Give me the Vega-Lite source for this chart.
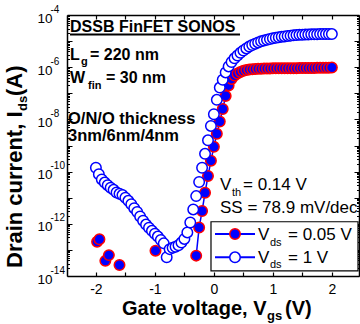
{
  "$schema": "https://vega.github.io/schema/vega-lite/v6.json",
  "width": 292,
  "height": 261,
  "autosize": {"type": "none"},
  "padding": {"left": 67, "top": 15, "right": 1, "bottom": 48},
  "background": "white",
  "config": {"view": {"stroke": null}, "font": "Liberation Sans"},
  "datasets": {
    "iv": [
      {"vgs": -1.98, "ids": 2.04e-13, "vds": 0.05},
      {"vgs": -1.94, "ids": 2.57e-13, "vds": 0.05},
      {"vgs": -1.84, "ids": 3.80e-14, "vds": 0.05},
      {"vgs": -1.78, "ids": 6.31e-14, "vds": 0.05},
      {"vgs": -1.60, "ids": 2.63e-14, "vds": 0.05},
      {"vgs": -0.99, "ids": 9.33e-14, "vds": 0.05},
      {"vgs": -0.30, "ids": 6.03e-14, "vds": 0.05},
      {"vgs": -0.25, "ids": 7.24e-13, "vds": 0.05},
      {"vgs": -0.20, "ids": 3.09e-12, "vds": 0.05},
      {"vgs": -0.15, "ids": 1.55e-11, "vds": 0.05},
      {"vgs": -0.10, "ids": 6.76e-11, "vds": 0.05},
      {"vgs": -0.05, "ids": 2.63e-10, "vds": 0.05},
      {"vgs": 0.00, "ids": 8.91e-10, "vds": 0.05},
      {"vgs": 0.05, "ids": 2.82e-9, "vds": 0.05},
      {"vgs": 0.10, "ids": 8.32e-9, "vds": 0.05},
      {"vgs": 0.15, "ids": 2.51e-8, "vds": 0.05},
      {"vgs": 0.20, "ids": 7.94e-8, "vds": 0.05},
      {"vgs": 0.25, "ids": 2.00e-7, "vds": 0.05},
      {"vgs": 0.30, "ids": 3.55e-7, "vds": 0.05},
      {"vgs": 0.35, "ids": 4.79e-7, "vds": 0.05},
      {"vgs": 0.40, "ids": 5.75e-7, "vds": 0.05},
      {"vgs": 0.45, "ids": 6.61e-7, "vds": 0.05},
      {"vgs": 0.50, "ids": 7.24e-7, "vds": 0.05},
      {"vgs": 0.55, "ids": 7.76e-7, "vds": 0.05},
      {"vgs": 0.60, "ids": 8.13e-7, "vds": 0.05},
      {"vgs": 0.65, "ids": 8.32e-7, "vds": 0.05},
      {"vgs": 0.70, "ids": 8.51e-7, "vds": 0.05},
      {"vgs": 0.75, "ids": 8.71e-7, "vds": 0.05},
      {"vgs": 0.80, "ids": 8.71e-7, "vds": 0.05},
      {"vgs": 0.85, "ids": 8.91e-7, "vds": 0.05},
      {"vgs": 0.90, "ids": 8.91e-7, "vds": 0.05},
      {"vgs": 0.95, "ids": 8.91e-7, "vds": 0.05},
      {"vgs": 1.00, "ids": 9.12e-7, "vds": 0.05},
      {"vgs": 1.05, "ids": 9.12e-7, "vds": 0.05},
      {"vgs": 1.10, "ids": 9.12e-7, "vds": 0.05},
      {"vgs": 1.15, "ids": 9.12e-7, "vds": 0.05},
      {"vgs": 1.20, "ids": 9.12e-7, "vds": 0.05},
      {"vgs": 1.25, "ids": 9.12e-7, "vds": 0.05},
      {"vgs": 1.30, "ids": 9.12e-7, "vds": 0.05},
      {"vgs": 1.35, "ids": 9.12e-7, "vds": 0.05},
      {"vgs": 1.40, "ids": 9.12e-7, "vds": 0.05},
      {"vgs": 1.45, "ids": 9.33e-7, "vds": 0.05},
      {"vgs": 1.50, "ids": 9.33e-7, "vds": 0.05},
      {"vgs": 1.55, "ids": 9.33e-7, "vds": 0.05},
      {"vgs": 1.60, "ids": 9.33e-7, "vds": 0.05},
      {"vgs": 1.65, "ids": 9.33e-7, "vds": 0.05},
      {"vgs": 1.70, "ids": 9.33e-7, "vds": 0.05},
      {"vgs": 1.75, "ids": 9.55e-7, "vds": 0.05},
      {"vgs": 1.80, "ids": 9.55e-7, "vds": 0.05},
      {"vgs": 1.85, "ids": 9.55e-7, "vds": 0.05},
      {"vgs": 1.90, "ids": 9.55e-7, "vds": 0.05},
      {"vgs": 1.95, "ids": 9.55e-7, "vds": 0.05},
      {"vgs": 2.00, "ids": 9.77e-7, "vds": 0.05},
      {"vgs": -2.00, "ids": 1.41e-10, "vds": 1},
      {"vgs": -1.95, "ids": 7.94e-11, "vds": 1},
      {"vgs": -1.90, "ids": 5.01e-11, "vds": 1},
      {"vgs": -1.85, "ids": 3.80e-11, "vds": 1},
      {"vgs": -1.80, "ids": 3.02e-11, "vds": 1},
      {"vgs": -1.75, "ids": 2.40e-11, "vds": 1},
      {"vgs": -1.70, "ids": 2.00e-11, "vds": 1},
      {"vgs": -1.65, "ids": 1.58e-11, "vds": 1},
      {"vgs": -1.60, "ids": 1.41e-11, "vds": 1},
      {"vgs": -1.55, "ids": 1.26e-11, "vds": 1},
      {"vgs": -1.50, "ids": 1.00e-11, "vds": 1},
      {"vgs": -1.45, "ids": 7.59e-12, "vds": 1},
      {"vgs": -1.40, "ids": 5.62e-12, "vds": 1},
      {"vgs": -1.35, "ids": 3.98e-12, "vds": 1},
      {"vgs": -1.30, "ids": 2.82e-12, "vds": 1},
      {"vgs": -1.25, "ids": 1.91e-12, "vds": 1},
      {"vgs": -1.20, "ids": 1.32e-12, "vds": 1},
      {"vgs": -1.15, "ids": 9.33e-13, "vds": 1},
      {"vgs": -1.10, "ids": 7.08e-13, "vds": 1},
      {"vgs": -1.05, "ids": 5.37e-13, "vds": 1},
      {"vgs": -1.00, "ids": 4.17e-13, "vds": 1},
      {"vgs": -0.95, "ids": 3.24e-13, "vds": 1},
      {"vgs": -0.90, "ids": 2.40e-13, "vds": 1},
      {"vgs": -0.85, "ids": 1.78e-13, "vds": 1},
      {"vgs": -0.80, "ids": 5.25e-14, "vds": 1},
      {"vgs": -0.75, "ids": 1.07e-13, "vds": 1},
      {"vgs": -0.70, "ids": 1.20e-13, "vds": 1},
      {"vgs": -0.65, "ids": 1.32e-13, "vds": 1},
      {"vgs": -0.60, "ids": 1.51e-13, "vds": 1},
      {"vgs": -0.55, "ids": 1.91e-13, "vds": 1},
      {"vgs": -0.50, "ids": 2.63e-13, "vds": 1},
      {"vgs": -0.45, "ids": 4.68e-13, "vds": 1},
      {"vgs": -0.40, "ids": 1.12e-12, "vds": 1},
      {"vgs": -0.35, "ids": 3.55e-12, "vds": 1},
      {"vgs": -0.30, "ids": 1.15e-11, "vds": 1},
      {"vgs": -0.25, "ids": 3.98e-11, "vds": 1},
      {"vgs": -0.20, "ids": 1.41e-10, "vds": 1},
      {"vgs": -0.15, "ids": 4.79e-10, "vds": 1},
      {"vgs": -0.10, "ids": 1.58e-9, "vds": 1},
      {"vgs": -0.05, "ids": 5.62e-9, "vds": 1},
      {"vgs": 0.00, "ids": 1.58e-8, "vds": 1},
      {"vgs": 0.05, "ids": 5.62e-8, "vds": 1},
      {"vgs": 0.10, "ids": 1.66e-7, "vds": 1},
      {"vgs": 0.15, "ids": 3.31e-7, "vds": 1},
      {"vgs": 0.20, "ids": 6.31e-7, "vds": 1},
      {"vgs": 0.25, "ids": 1.07e-6, "vds": 1},
      {"vgs": 0.30, "ids": 1.58e-6, "vds": 1},
      {"vgs": 0.35, "ids": 2.19e-6, "vds": 1},
      {"vgs": 0.40, "ids": 2.82e-6, "vds": 1},
      {"vgs": 0.45, "ids": 3.55e-6, "vds": 1},
      {"vgs": 0.50, "ids": 4.37e-6, "vds": 1},
      {"vgs": 0.55, "ids": 5.25e-6, "vds": 1},
      {"vgs": 0.60, "ids": 6.17e-6, "vds": 1},
      {"vgs": 0.65, "ids": 7.08e-6, "vds": 1},
      {"vgs": 0.70, "ids": 7.94e-6, "vds": 1},
      {"vgs": 0.75, "ids": 8.91e-6, "vds": 1},
      {"vgs": 0.80, "ids": 9.77e-6, "vds": 1},
      {"vgs": 0.85, "ids": 1.05e-5, "vds": 1},
      {"vgs": 0.90, "ids": 1.12e-5, "vds": 1},
      {"vgs": 0.95, "ids": 1.20e-5, "vds": 1},
      {"vgs": 1.00, "ids": 1.29e-5, "vds": 1},
      {"vgs": 1.05, "ids": 1.35e-5, "vds": 1},
      {"vgs": 1.10, "ids": 1.41e-5, "vds": 1},
      {"vgs": 1.15, "ids": 1.48e-5, "vds": 1},
      {"vgs": 1.20, "ids": 1.51e-5, "vds": 1},
      {"vgs": 1.25, "ids": 1.58e-5, "vds": 1},
      {"vgs": 1.30, "ids": 1.62e-5, "vds": 1},
      {"vgs": 1.35, "ids": 1.66e-5, "vds": 1},
      {"vgs": 1.40, "ids": 1.70e-5, "vds": 1},
      {"vgs": 1.45, "ids": 1.74e-5, "vds": 1},
      {"vgs": 1.50, "ids": 1.74e-5, "vds": 1},
      {"vgs": 1.55, "ids": 1.78e-5, "vds": 1},
      {"vgs": 1.60, "ids": 1.78e-5, "vds": 1},
      {"vgs": 1.65, "ids": 1.82e-5, "vds": 1},
      {"vgs": 1.70, "ids": 1.82e-5, "vds": 1},
      {"vgs": 1.75, "ids": 1.82e-5, "vds": 1},
      {"vgs": 1.80, "ids": 1.86e-5, "vds": 1},
      {"vgs": 1.85, "ids": 1.86e-5, "vds": 1},
      {"vgs": 1.90, "ids": 1.86e-5, "vds": 1},
      {"vgs": 1.95, "ids": 1.86e-5, "vds": 1},
      {"vgs": 2.00, "ids": 1.86e-5, "vds": 1}
    ],
    "decades": [
      {"tick": 1e-4, "exp": "-4"},
      {"tick": 1e-6, "exp": "-6"},
      {"tick": 1e-8, "exp": "-8"},
      {"tick": 1e-10, "exp": "-10"},
      {"tick": 1e-12, "exp": "-12"},
      {"tick": 1e-14, "exp": "-14"}
    ]
  },
  "layer": [
    {
      "data": {"name": "iv"},
      "transform": [{"filter": "datum.vds == 0.05 && datum.vgs >= -0.31"}],
      "mark": {"type": "line", "color": "#0000ff", "strokeWidth": 1.5},
      "encoding": {
        "x": {"field": "vgs", "type": "quantitative", "scale": {"domain": [-2.49, 2.46], "nice": false, "zero": false}, "axis": null},
        "y": {"field": "ids", "type": "quantitative", "scale": {"type": "log", "domain": [1e-14, 1e-4], "nice": false}, "axis": null}
      }
    },
    {
      "data": {"name": "iv"},
      "transform": [{"filter": "datum.vds == 0.05"}],
      "mark": {"type": "point", "shape": "circle", "filled": true, "fill": "#0000ff", "stroke": "#ff0000", "strokeWidth": 1.5, "size": 110, "opacity": 1, "fillOpacity": 1, "strokeOpacity": 1},
      "encoding": {
        "x": {"field": "vgs", "type": "quantitative", "scale": {"domain": [-2.49, 2.46], "nice": false, "zero": false},
          "axis": {"orient": "bottom", "values": [-2, -1.5, -1, -0.5, 0, 0.5, 1, 1.5, 2], "labelExpr": "datum.value == round(datum.value) ? (datum.value < 0 ? '-' + abs(datum.value) : '' + datum.value) : ''", "tickSize": -4, "tickWidth": 1.2, "tickColor": "black", "domainColor": "black", "domainWidth": 1.5, "labelFont": "Liberation Sans", "labelFontSize": 14, "labelColor": "black", "labelPadding": 10, "grid": false, "title": null, "labelFlush": false, "labelOverlap": false}},
        "y": {"field": "ids", "type": "quantitative", "scale": {"type": "log", "domain": [1e-14, 1e-4], "nice": false},
          "axis": {"orient": "left", "values": [1e-14,2e-14,3e-14,4e-14,5e-14,6e-14,7e-14,8e-14,9e-14,1e-13,2e-13,3e-13,4e-13,5e-13,6e-13,7e-13,8e-13,9e-13,1e-12,2e-12,3e-12,4e-12,5e-12,6e-12,7e-12,8e-12,9e-12,1e-11,2e-11,3e-11,4e-11,5e-11,6e-11,7e-11,8e-11,9e-11,1e-10,2e-10,3e-10,4e-10,5e-10,6e-10,7e-10,8e-10,9e-10,1e-9,2e-9,3e-9,4e-9,5e-9,6e-9,7e-9,8e-9,9e-9,1e-8,2e-8,3e-8,4e-8,5e-8,6e-8,7e-8,8e-8,9e-8,1e-7,2e-7,3e-7,4e-7,5e-7,6e-7,7e-7,8e-7,9e-7,1e-6,2e-6,3e-6,4e-6,5e-6,6e-6,7e-6,8e-6,9e-6,1e-5,2e-5,3e-5,4e-5,5e-5,6e-5,7e-5,8e-5,9e-5,1e-4],
            "labelExpr": "abs(log(datum.value)/LN10 - round(log(datum.value)/LN10)) < 0.01 && round(log(datum.value)/LN10) % 2 == 0 ? '10' : ''",
            "tickSize": {"condition": {"test": "abs(log(datum.value)/LN10 - round(log(datum.value)/LN10)) < 0.01", "value": -5}, "value": -2.5},
            "tickWidth": 1, "tickColor": "black", "domainColor": "black", "domainWidth": 1.5, "labelFont": "Liberation Sans", "labelFontSize": 13.5, "labelColor": "black", "labelPadding": 20, "labelOffset": 3, "grid": false, "title": null, "labelFlush": false, "labelOverlap": false}}
      }
    },
    {
      "data": {"name": "iv"},
      "transform": [{"filter": "datum.vds == 1"}],
      "mark": {"type": "point", "shape": "circle", "filled": true, "fill": "#ffffff", "stroke": "#0000ff", "strokeWidth": 1.5, "size": 110, "opacity": 1, "fillOpacity": 1, "strokeOpacity": 1},
      "encoding": {
        "x": {"field": "vgs", "type": "quantitative", "scale": {"domain": [-2.49, 2.46], "nice": false, "zero": false},
          "axis": {"orient": "top", "values": [-2, -1.5, -1, -0.5, 0, 0.5, 1, 1.5, 2], "labels": false, "tickSize": -4, "tickWidth": 1.2, "tickColor": "black", "domainColor": "black", "domainWidth": 1.5, "grid": false, "title": null}},
        "y": {"field": "ids", "type": "quantitative", "scale": {"type": "log", "domain": [1e-14, 1e-4], "nice": false},
          "axis": {"orient": "right", "values": [1e-14,2e-14,3e-14,4e-14,5e-14,6e-14,7e-14,8e-14,9e-14,1e-13,2e-13,3e-13,4e-13,5e-13,6e-13,7e-13,8e-13,9e-13,1e-12,2e-12,3e-12,4e-12,5e-12,6e-12,7e-12,8e-12,9e-12,1e-11,2e-11,3e-11,4e-11,5e-11,6e-11,7e-11,8e-11,9e-11,1e-10,2e-10,3e-10,4e-10,5e-10,6e-10,7e-10,8e-10,9e-10,1e-9,2e-9,3e-9,4e-9,5e-9,6e-9,7e-9,8e-9,9e-9,1e-8,2e-8,3e-8,4e-8,5e-8,6e-8,7e-8,8e-8,9e-8,1e-7,2e-7,3e-7,4e-7,5e-7,6e-7,7e-7,8e-7,9e-7,1e-6,2e-6,3e-6,4e-6,5e-6,6e-6,7e-6,8e-6,9e-6,1e-5,2e-5,3e-5,4e-5,5e-5,6e-5,7e-5,8e-5,9e-5,1e-4],
            "labels": false,
            "tickSize": {"condition": {"test": "abs(log(datum.value)/LN10 - round(log(datum.value)/LN10)) < 0.01", "value": -5}, "value": -2.5},
            "tickWidth": 1, "tickColor": "black", "domainColor": "black", "domainWidth": 1.5, "grid": false, "title": null}}
      }
    },
    {
      "data": {"name": "decades"},
      "mark": {"type": "text", "align": "left", "baseline": "middle", "dx": -16.5, "dy": -5.5, "font": "Liberation Sans", "fontSize": 10, "color": "black"},
      "encoding": {
        "x": {"datum": -2.49, "type": "quantitative", "scale": {"domain": [-2.49, 2.46], "nice": false, "zero": false}, "axis": null},
        "y": {"field": "tick", "type": "quantitative", "scale": {"type": "log", "domain": [1e-14, 1e-4], "nice": false}, "axis": null},
        "text": {"field": "exp"}
      }
    },
    {
      "data": {"values": [{}]},
      "mark": {"type": "text", "text": "DSSB FinFET SONOS", "align": "left", "baseline": "alphabetic", "font": "Liberation Sans", "fontSize": 16, "fontWeight": "bold", "color": "black"},
      "encoding": {
        "x": {"datum": -2.439, "type": "quantitative", "scale": {"domain": [-2.49, 2.46], "nice": false, "zero": false}, "axis": null},
        "y": {"datum": 2.29e-5, "type": "quantitative", "scale": {"type": "log", "domain": [1e-14, 1e-4], "nice": false}, "axis": null}
      }
    },
    {
      "data": {"values": [{}]},
      "mark": {"type": "rule", "color": "black", "strokeWidth": 1.8},
      "encoding": {
        "x": {"datum": -2.439, "type": "quantitative", "scale": {"domain": [-2.49, 2.46], "nice": false, "zero": false}, "axis": null},
        "x2": {"datum": 0.443},
        "y": {"datum": 1.79e-5, "type": "quantitative", "scale": {"type": "log", "domain": [1e-14, 1e-4], "nice": false}, "axis": null}
      }
    },
    {
      "data": {"values": [{}]},
      "mark": {"type": "text", "text": "L", "align": "left", "baseline": "alphabetic", "font": "Liberation Sans", "fontSize": 16, "fontWeight": "bold", "color": "black"},
      "encoding": {
        "x": {"datum": -2.439, "type": "quantitative", "scale": {"domain": [-2.49, 2.46], "nice": false, "zero": false}, "axis": null},
        "y": {"datum": 1.89e-6, "type": "quantitative", "scale": {"type": "log", "domain": [1e-14, 1e-4], "nice": false}, "axis": null}
      }
    },
    {
      "data": {"values": [{}]},
      "mark": {"type": "text", "text": "g", "align": "left", "baseline": "alphabetic", "font": "Liberation Sans", "fontSize": 11, "fontWeight": "bold", "color": "black"},
      "encoding": {
        "x": {"datum": -2.253, "type": "quantitative", "scale": {"domain": [-2.49, 2.46], "nice": false, "zero": false}, "axis": null},
        "y": {"datum": 1.21e-6, "type": "quantitative", "scale": {"type": "log", "domain": [1e-14, 1e-4], "nice": false}, "axis": null}
      }
    },
    {
      "data": {"values": [{}]},
      "mark": {"type": "text", "text": "= 220 nm", "align": "left", "baseline": "alphabetic", "font": "Liberation Sans", "fontSize": 16, "fontWeight": "bold", "color": "black"},
      "encoding": {
        "x": {"datum": -2.100, "type": "quantitative", "scale": {"domain": [-2.49, 2.46], "nice": false, "zero": false}, "axis": null},
        "y": {"datum": 1.89e-6, "type": "quantitative", "scale": {"type": "log", "domain": [1e-14, 1e-4], "nice": false}, "axis": null}
      }
    },
    {
      "data": {"values": [{}]},
      "mark": {"type": "text", "text": "W", "align": "left", "baseline": "alphabetic", "font": "Liberation Sans", "fontSize": 16, "fontWeight": "bold", "color": "black"},
      "encoding": {
        "x": {"datum": -2.439, "type": "quantitative", "scale": {"domain": [-2.49, 2.46], "nice": false, "zero": false}, "axis": null},
        "y": {"datum": 2.42e-7, "type": "quantitative", "scale": {"type": "log", "domain": [1e-14, 1e-4], "nice": false}, "axis": null}
      }
    },
    {
      "data": {"values": [{}]},
      "mark": {"type": "text", "text": "fin", "align": "left", "baseline": "alphabetic", "font": "Liberation Sans", "fontSize": 11, "fontWeight": "bold", "color": "black"},
      "encoding": {
        "x": {"datum": -2.134, "type": "quantitative", "scale": {"domain": [-2.49, 2.46], "nice": false, "zero": false}, "axis": null},
        "y": {"datum": 1.46e-7, "type": "quantitative", "scale": {"type": "log", "domain": [1e-14, 1e-4], "nice": false}, "axis": null}
      }
    },
    {
      "data": {"values": [{}]},
      "mark": {"type": "text", "text": "= 30 nm", "align": "left", "baseline": "alphabetic", "font": "Liberation Sans", "fontSize": 16, "fontWeight": "bold", "color": "black"},
      "encoding": {
        "x": {"datum": -1.829, "type": "quantitative", "scale": {"domain": [-2.49, 2.46], "nice": false, "zero": false}, "axis": null},
        "y": {"datum": 2.42e-7, "type": "quantitative", "scale": {"type": "log", "domain": [1e-14, 1e-4], "nice": false}, "axis": null}
      }
    },
    {
      "data": {"values": [{}]},
      "mark": {"type": "text", "text": "O/N/O thickness", "align": "left", "baseline": "alphabetic", "font": "Liberation Sans", "fontSize": 16.5, "fontWeight": "bold", "color": "black"},
      "encoding": {
        "x": {"datum": -2.473, "type": "quantitative", "scale": {"domain": [-2.49, 2.46], "nice": false, "zero": false}, "axis": null},
        "y": {"datum": 6.67e-9, "type": "quantitative", "scale": {"type": "log", "domain": [1e-14, 1e-4], "nice": false}, "axis": null}
      }
    },
    {
      "data": {"values": [{}]},
      "mark": {"type": "text", "text": "3nm/6nm/4nm", "align": "left", "baseline": "alphabetic", "font": "Liberation Sans", "fontSize": 16.5, "fontWeight": "bold", "color": "black"},
      "encoding": {
        "x": {"datum": -2.473, "type": "quantitative", "scale": {"domain": [-2.49, 2.46], "nice": false, "zero": false}, "axis": null},
        "y": {"datum": 1.55e-9, "type": "quantitative", "scale": {"type": "log", "domain": [1e-14, 1e-4], "nice": false}, "axis": null}
      }
    },
    {
      "data": {"values": [{}]},
      "mark": {"type": "text", "text": "V", "align": "left", "baseline": "alphabetic", "font": "Liberation Sans", "fontSize": 17, "color": "black"},
      "encoding": {
        "x": {"datum": 0.104, "type": "quantitative", "scale": {"domain": [-2.49, 2.46], "nice": false, "zero": false}, "axis": null},
        "y": {"datum": 1.97e-11, "type": "quantitative", "scale": {"type": "log", "domain": [1e-14, 1e-4], "nice": false}, "axis": null}
      }
    },
    {
      "data": {"values": [{}]},
      "mark": {"type": "text", "text": "th", "align": "left", "baseline": "alphabetic", "font": "Liberation Sans", "fontSize": 11, "color": "black"},
      "encoding": {
        "x": {"datum": 0.307, "type": "quantitative", "scale": {"domain": [-2.49, 2.46], "nice": false, "zero": false}, "axis": null},
        "y": {"datum": 1.16e-11, "type": "quantitative", "scale": {"type": "log", "domain": [1e-14, 1e-4], "nice": false}, "axis": null}
      }
    },
    {
      "data": {"values": [{}]},
      "mark": {"type": "text", "text": "= 0.14 V", "align": "left", "baseline": "alphabetic", "font": "Liberation Sans", "fontSize": 17, "color": "black"},
      "encoding": {
        "x": {"datum": 0.494, "type": "quantitative", "scale": {"domain": [-2.49, 2.46], "nice": false, "zero": false}, "axis": null},
        "y": {"datum": 1.97e-11, "type": "quantitative", "scale": {"type": "log", "domain": [1e-14, 1e-4], "nice": false}, "axis": null}
      }
    },
    {
      "data": {"values": [{}]},
      "mark": {"type": "text", "text": "SS = 78.9 mV/dec", "align": "left", "baseline": "alphabetic", "font": "Liberation Sans", "fontSize": 17, "color": "black"},
      "encoding": {
        "x": {"datum": 0.104, "type": "quantitative", "scale": {"domain": [-2.49, 2.46], "nice": false, "zero": false}, "axis": null},
        "y": {"datum": 2.66e-12, "type": "quantitative", "scale": {"type": "log", "domain": [1e-14, 1e-4], "nice": false}, "axis": null}
      }
    },
    {
      "data": {"values": [{}]},
      "mark": {"type": "rect", "fill": "white", "stroke": "black", "strokeWidth": 1.2},
      "encoding": {
        "x": {"datum": -0.049, "type": "quantitative", "scale": {"domain": [-2.49, 2.46], "nice": false, "zero": false}, "axis": null},
        "x2": {"datum": 2.443},
        "y": {"datum": 1.20e-12, "type": "quantitative", "scale": {"type": "log", "domain": [1e-14, 1e-4], "nice": false}, "axis": null},
        "y2": {"datum": 1.56e-14}
      }
    },
    {
      "data": {"values": [{}]},
      "mark": {"type": "rule", "color": "#0000ff", "strokeWidth": 2},
      "encoding": {
        "x": {"datum": 0.019, "type": "quantitative", "scale": {"domain": [-2.49, 2.46], "nice": false, "zero": false}, "axis": null},
        "x2": {"datum": 0.697},
        "y": {"datum": 4.06e-13, "type": "quantitative", "scale": {"type": "log", "domain": [1e-14, 1e-4], "nice": false}, "axis": null}
      }
    },
    {
      "data": {"values": [{}]},
      "mark": {"type": "rule", "color": "#0000ff", "strokeWidth": 2},
      "encoding": {
        "x": {"datum": 0.019, "type": "quantitative", "scale": {"domain": [-2.49, 2.46], "nice": false, "zero": false}, "axis": null},
        "x2": {"datum": 0.697},
        "y": {"datum": 5.2e-14, "type": "quantitative", "scale": {"type": "log", "domain": [1e-14, 1e-4], "nice": false}, "axis": null}
      }
    },
    {
      "data": {"values": [{}]},
      "mark": {"type": "point", "shape": "circle", "filled": true, "fill": "#0000ff", "stroke": "#ff0000", "strokeWidth": 1.5, "size": 110, "opacity": 1},
      "encoding": {
        "x": {"datum": 0.358, "type": "quantitative", "scale": {"domain": [-2.49, 2.46], "nice": false, "zero": false}, "axis": null},
        "y": {"datum": 4.06e-13, "type": "quantitative", "scale": {"type": "log", "domain": [1e-14, 1e-4], "nice": false}, "axis": null}
      }
    },
    {
      "data": {"values": [{}]},
      "mark": {"type": "point", "shape": "circle", "filled": true, "fill": "#ffffff", "stroke": "#0000ff", "strokeWidth": 1.5, "size": 110, "opacity": 1},
      "encoding": {
        "x": {"datum": 0.358, "type": "quantitative", "scale": {"domain": [-2.49, 2.46], "nice": false, "zero": false}, "axis": null},
        "y": {"datum": 5.2e-14, "type": "quantitative", "scale": {"type": "log", "domain": [1e-14, 1e-4], "nice": false}, "axis": null}
      }
    },
    {
      "data": {"values": [{}]},
      "mark": {"type": "text", "text": "V", "align": "left", "baseline": "alphabetic", "font": "Liberation Sans", "fontSize": 17, "color": "black"},
      "encoding": {
        "x": {"datum": 0.748, "type": "quantitative", "scale": {"domain": [-2.49, 2.46], "nice": false, "zero": false}, "axis": null},
        "y": {"datum": 2.39e-13, "type": "quantitative", "scale": {"type": "log", "domain": [1e-14, 1e-4], "nice": false}, "axis": null}
      }
    },
    {
      "data": {"values": [{}]},
      "mark": {"type": "text", "text": "ds", "align": "left", "baseline": "alphabetic", "font": "Liberation Sans", "fontSize": 11, "color": "black"},
      "encoding": {
        "x": {"datum": 0.951, "type": "quantitative", "scale": {"domain": [-2.49, 2.46], "nice": false, "zero": false}, "axis": null},
        "y": {"datum": 1.47e-13, "type": "quantitative", "scale": {"type": "log", "domain": [1e-14, 1e-4], "nice": false}, "axis": null}
      }
    },
    {
      "data": {"values": [{}]},
      "mark": {"type": "text", "text": "= 0.05 V", "align": "left", "baseline": "alphabetic", "font": "Liberation Sans", "fontSize": 17, "color": "black"},
      "encoding": {
        "x": {"datum": 1.256, "type": "quantitative", "scale": {"domain": [-2.49, 2.46], "nice": false, "zero": false}, "axis": null},
        "y": {"datum": 2.39e-13, "type": "quantitative", "scale": {"type": "log", "domain": [1e-14, 1e-4], "nice": false}, "axis": null}
      }
    },
    {
      "data": {"values": [{}]},
      "mark": {"type": "text", "text": "V", "align": "left", "baseline": "alphabetic", "font": "Liberation Sans", "fontSize": 17, "color": "black"},
      "encoding": {
        "x": {"datum": 0.748, "type": "quantitative", "scale": {"domain": [-2.49, 2.46], "nice": false, "zero": false}, "axis": null},
        "y": {"datum": 3.24e-14, "type": "quantitative", "scale": {"type": "log", "domain": [1e-14, 1e-4], "nice": false}, "axis": null}
      }
    },
    {
      "data": {"values": [{}]},
      "mark": {"type": "text", "text": "ds", "align": "left", "baseline": "alphabetic", "font": "Liberation Sans", "fontSize": 11, "color": "black"},
      "encoding": {
        "x": {"datum": 0.951, "type": "quantitative", "scale": {"domain": [-2.49, 2.46], "nice": false, "zero": false}, "axis": null},
        "y": {"datum": 2.03e-14, "type": "quantitative", "scale": {"type": "log", "domain": [1e-14, 1e-4], "nice": false}, "axis": null}
      }
    },
    {
      "data": {"values": [{}]},
      "mark": {"type": "text", "text": "= 1 V", "align": "left", "baseline": "alphabetic", "font": "Liberation Sans", "fontSize": 17, "color": "black"},
      "encoding": {
        "x": {"datum": 1.256, "type": "quantitative", "scale": {"domain": [-2.49, 2.46], "nice": false, "zero": false}, "axis": null},
        "y": {"datum": 3.24e-14, "type": "quantitative", "scale": {"type": "log", "domain": [1e-14, 1e-4], "nice": false}, "axis": null}
      }
    },
    {
      "data": {"values": [{}]},
      "mark": {"type": "text", "text": "Gate voltage, V", "align": "left", "baseline": "alphabetic", "font": "Liberation Sans", "fontSize": 20, "fontWeight": "bold", "color": "black"},
      "encoding": {
        "x": {"datum": -1.558, "type": "quantitative", "scale": {"domain": [-2.49, 2.46], "nice": false, "zero": false}, "axis": null},
        "y": {"datum": 3.07e-16, "type": "quantitative", "scale": {"type": "log", "domain": [1e-14, 1e-4], "nice": false}, "axis": null}
      }
    },
    {
      "data": {"values": [{}]},
      "mark": {"type": "text", "text": "gs", "align": "left", "baseline": "alphabetic", "font": "Liberation Sans", "fontSize": 13, "fontWeight": "bold", "color": "black"},
      "encoding": {
        "x": {"datum": 0.900, "type": "quantitative", "scale": {"domain": [-2.49, 2.46], "nice": false, "zero": false}, "axis": null},
        "y": {"datum": 2.06e-16, "type": "quantitative", "scale": {"type": "log", "domain": [1e-14, 1e-4], "nice": false}, "axis": null}
      }
    },
    {
      "data": {"values": [{}]},
      "mark": {"type": "text", "text": " (V)", "align": "left", "baseline": "alphabetic", "font": "Liberation Sans", "fontSize": 20, "fontWeight": "bold", "color": "black"},
      "encoding": {
        "x": {"datum": 1.206, "type": "quantitative", "scale": {"domain": [-2.49, 2.46], "nice": false, "zero": false}, "axis": null},
        "y": {"datum": 3.07e-16, "type": "quantitative", "scale": {"type": "log", "domain": [1e-14, 1e-4], "nice": false}, "axis": null}
      }
    },
    {
      "data": {"values": [{}]},
      "mark": {"type": "text", "text": "Drain current, I", "angle": 270, "align": "left", "baseline": "alphabetic", "font": "Liberation Sans", "fontSize": 22, "fontWeight": "bold", "color": "black"},
      "encoding": {
        "x": {"datum": -3.253, "type": "quantitative", "scale": {"domain": [-2.49, 2.46], "nice": false, "zero": false}, "axis": null},
        "y": {"datum": 2.03e-14, "type": "quantitative", "scale": {"type": "log", "domain": [1e-14, 1e-4], "nice": false}, "axis": null}
      }
    },
    {
      "data": {"values": [{}]},
      "mark": {"type": "text", "text": "ds", "angle": 270, "align": "left", "baseline": "alphabetic", "font": "Liberation Sans", "fontSize": 13, "fontWeight": "bold", "color": "black"},
      "encoding": {
        "x": {"datum": -3.168, "type": "quantitative", "scale": {"domain": [-2.49, 2.46], "nice": false, "zero": false}, "axis": null},
        "y": {"datum": 2.10e-8, "type": "quantitative", "scale": {"type": "log", "domain": [1e-14, 1e-4], "nice": false}, "axis": null}
      }
    },
    {
      "data": {"values": [{}]},
      "mark": {"type": "text", "text": " (A)", "angle": 270, "align": "left", "baseline": "alphabetic", "font": "Liberation Sans", "fontSize": 22, "fontWeight": "bold", "color": "black"},
      "encoding": {
        "x": {"datum": -3.253, "type": "quantitative", "scale": {"domain": [-2.49, 2.46], "nice": false, "zero": false}, "axis": null},
        "y": {"datum": 7.88e-8, "type": "quantitative", "scale": {"type": "log", "domain": [1e-14, 1e-4], "nice": false}, "axis": null}
      }
    }
  ],
  "resolve": {"axis": {"x": "independent", "y": "independent"}}
}
